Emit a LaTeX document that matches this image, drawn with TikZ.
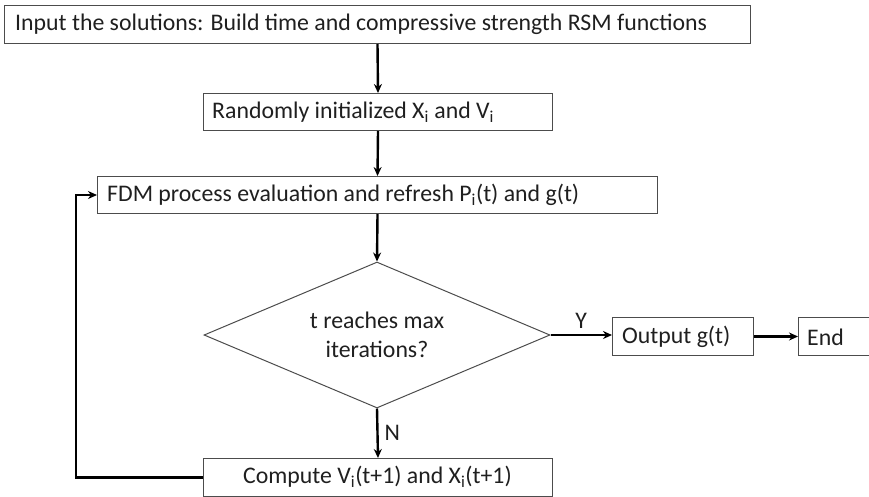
\documentclass[tikz,border=0pt]{standalone}
\usepackage{fontspec}
\setmainfont{Carlito}
\usetikzlibrary{shapes.geometric,arrows.meta}
\begin{document}
\begin{tikzpicture}[x=1pt,y=-1pt,
  every node/.style={font=\fontsize{23.8}{29}\selectfont, text=black!88},
  stepbox/.style={draw=black!70, line width=1pt, rectangle, inner sep=0pt, anchor=north west},
  decision/.style={draw=black!70, line width=1pt, shape=diamond, shape aspect=2.37, inner sep=0pt, minimum width=346pt, minimum height=146pt, align=center},
  flow/.style={line width=2.4pt, draw=black, -{Stealth[length=9pt,width=8pt]}},
  loopline/.style={line width=2.4pt, draw=black, -{Stealth[length=9pt,width=8pt]}}
]
\useasboundingbox (0,0) rectangle (869,496);
% boxes
\node[stepbox, minimum width=746pt, minimum height=38pt] (b1) at (4,5) {};
\node[anchor=west, inner sep=0pt] (t1) at (15,24) {Input the solutions: Build time and compressive strength RSM functions};
\node[stepbox, minimum width=349pt, minimum height=37pt] (b2) at (203,93) {};
\node[anchor=west, inner sep=0pt] (t2) at (212,112) {Randomly initialized X\textsubscript{i} and V\textsubscript{i}};
\node[stepbox, minimum width=560pt, minimum height=37pt] (b3) at (97,176) {};
\node[anchor=west, inner sep=0pt] (t3) at (107,195) {FDM process evaluation and refresh P\textsubscript{i}(t) and g(t)};
\node[decision] (d) at (377,335) {t reaches max\\iterations?};
\node[stepbox, minimum width=141pt, minimum height=38pt] (out) at (612,317) {};
\node[anchor=west, inner sep=0pt] (tout) at (622,337) {Output g(t)};
\node[stepbox, minimum width=72pt, minimum height=38pt] (end) at (798,317) {};
\node[anchor=west, inner sep=0pt] (tend) at (807,337) {End};
\node[stepbox, minimum width=349pt, minimum height=38pt] (b4) at (203,458) {};
\node[inner sep=0pt] (t4) at (377.5,477) {Compute V\textsubscript{i}(t+1) and X\textsubscript{i}(t+1)};
% connectors
\draw[flow] (b1.south) -- (b2.north);
\draw[flow] (b2.south) -- (b3.north);
\draw[flow] (b3.south) -- (d.north);
\draw[flow] (d.south) -- node[right=6pt, inner sep=0pt] {N} (b4.north);
\draw[flow] (d.east) -- node[above=5pt, inner sep=0pt] {Y} (d.east -| out.west);
\draw[flow] (out.east) -- (end.west);
\coordinate (lc) at (76,0);
\draw[loopline] (b4.west) -- (b4.west -| lc) -- (b3.west -| lc) -- (b3.west);
\end{tikzpicture}
\end{document}
